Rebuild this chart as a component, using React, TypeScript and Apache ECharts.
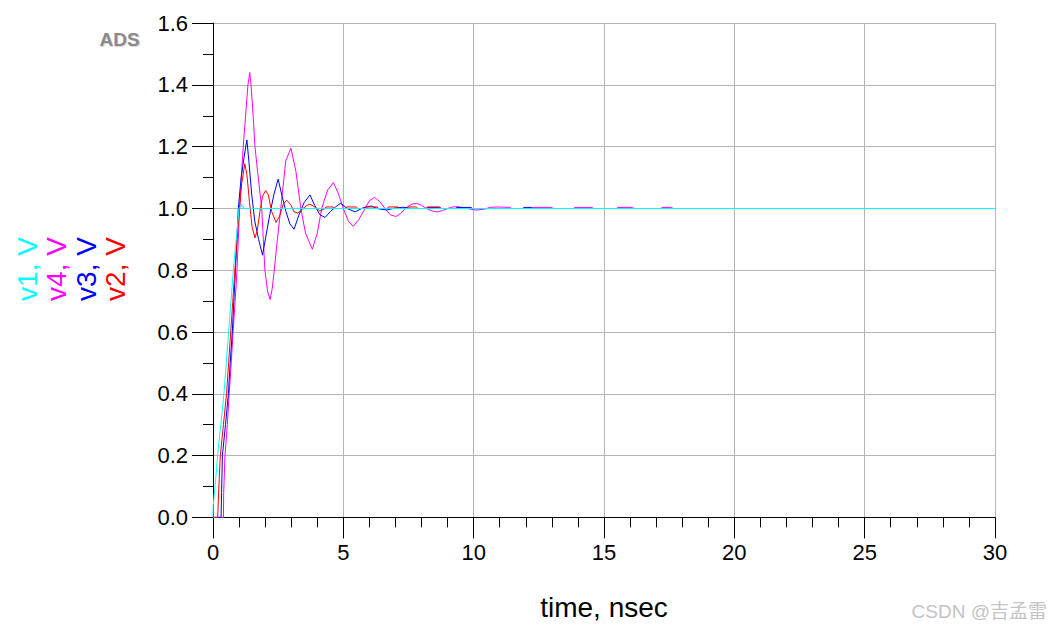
import React, { useEffect, useRef } from "react";
import * as echarts from "echarts";

// ---- axis ranges / ticks ----
const xRange = { min: 0, max: 30, interval: 5, minorSplit: 5 };
const yRange = { min: 0, max: 1.6, interval: 0.2, minorSplit: 2 };
const xTitle = "time, nsec";
const watermark = "CSDN @吉孟雷";
const logoText = "ADS";

// ---- series data: [time (ns), voltage (V)] ----
const v1Data: number[][] = [
  [0, 0], [0.01, 0.04], [0.1, 0.12], [0.2, 0.22], [0.3, 0.3], [0.42, 0.4], [0.6, 0.6],
  [0.78, 0.8], [1.0, 1.0], [1.1, 1.012], [1.2, 1.0], [30, 1.0],
];

const v2Data: number[][] = [
  [0, 0], [0.18, 0], [0.2, 0.05], [0.28, 0.2], [0.4, 0.3], [0.52, 0.4], [0.6, 0.5],
  [0.68, 0.6], [0.76, 0.7], [0.84, 0.8], [0.92, 0.9], [1.02, 1.0], [1.1, 1.08],
  [1.22, 1.145], [1.3, 1.11], [1.4, 1.02], [1.5, 0.94], [1.61, 0.905], [1.7, 0.93],
  [1.8, 0.99], [1.9, 1.04], [2.02, 1.058], [2.12, 1.045], [2.25, 0.99], [2.42, 0.955],
  [2.55, 0.975], [2.7, 1.015], [2.83, 1.027], [3.0, 1.01], [3.1, 0.99], [3.25, 0.985],
  [3.45, 1.0], [3.6, 1.01], [3.72, 1.014], [3.9, 1.005], [4.1, 0.992], [4.3, 1.0],
  [4.33, 1.005], [4.6, 1.005], [4.65, 1.0], [5.1, 1.0], [5.12, 1.005], [5.5, 1.005],
  [5.55, 1.0], [5.83, 1.0], [5.85, 1.005], [6.3, 1.005], [6.35, 1.0], [6.7, 1.0],
  [6.72, 1.005], [7.1, 1.005], [7.15, 1.0], [7.45, 1.0], [7.47, 1.005], [7.8, 1.005],
  [7.85, 1.0], [8.2, 1.0], [8.22, 1.005], [8.7, 1.005], [8.75, 1.0], [30, 1.0],
];

const v3Data: number[][] = [
  [0, 0], [0.31, 0], [0.33, 0.08], [0.36, 0.2], [0.48, 0.3], [0.59, 0.4], [0.66, 0.5],
  [0.74, 0.6], [0.8, 0.7], [0.86, 0.8], [0.92, 0.9], [0.97, 1.0], [1.08, 1.1],
  [1.2, 1.17], [1.3, 1.222], [1.38, 1.15], [1.48, 1.05], [1.6, 0.96], [1.75, 0.9],
  [1.9, 0.849], [2.05, 0.92], [2.2, 0.99], [2.35, 1.05], [2.5, 1.095], [2.65, 1.04],
  [2.8, 0.99], [2.95, 0.95], [3.11, 0.933], [3.3, 0.98], [3.5, 1.02], [3.72, 1.044],
  [3.9, 1.01], [4.1, 0.98], [4.3, 0.971], [4.5, 0.99], [4.7, 1.005], [4.9, 1.017],
  [5.15, 1.0], [5.45, 0.989], [5.75, 1.002], [6.06, 1.008], [6.35, 0.999], [6.66, 0.995],
  [7.0, 1.002], [7.29, 1.004], [7.6, 1.0], [8.2, 1.0], [8.22, 1.0035], [8.7, 1.0035],
  [8.75, 1.0], [9.3, 1.0], [9.35, 1.0035], [9.9, 1.0035], [9.95, 1.0], [11.9, 1.0],
  [11.92, 1.0035], [12.2, 1.0035], [12.25, 1.0], [30, 1.0],
];

const v4Data: number[][] = [
  [0, 0], [0.4, 0], [0.41, 0.08], [0.46, 0.2], [0.55, 0.3], [0.62, 0.4], [0.7, 0.5],
  [0.77, 0.6], [0.85, 0.7], [0.92, 0.8], [0.97, 0.9], [1.02, 1.0], [1.1, 1.12],
  [1.16, 1.2], [1.25, 1.3], [1.34, 1.4], [1.41, 1.44], [1.46, 1.4], [1.54, 1.3],
  [1.61, 1.2], [1.71, 1.12], [1.79, 1.06], [1.87, 1.0], [1.93, 0.9], [1.99, 0.8],
  [2.1, 0.73], [2.19, 0.705], [2.27, 0.74], [2.35, 0.8], [2.47, 0.9], [2.6, 1.0],
  [2.79, 1.154], [2.99, 1.195], [3.18, 1.12], [3.37, 1.0], [3.55, 0.92], [3.81, 0.868],
  [4.0, 0.92], [4.17, 1.0], [4.4, 1.06], [4.62, 1.084], [4.8, 1.05], [5.0, 1.0],
  [5.2, 0.958], [5.38, 0.942], [5.6, 0.965], [5.83, 1.0], [6.0, 1.025], [6.2, 1.036],
  [6.4, 1.022], [6.6, 1.0], [6.8, 0.98], [7.02, 0.974], [7.2, 0.984], [7.37, 1.0],
  [7.6, 1.013], [7.8, 1.017], [8.0, 1.01], [8.2, 1.0], [8.4, 0.992], [8.6, 0.989],
  [8.8, 0.993], [9.0, 1.0], [9.2, 1.005], [9.35, 1.006], [9.6, 1.003], [9.8, 0.999],
  [10.0, 0.996], [10.1, 0.995], [10.35, 0.997], [10.5, 1.0], [10.6, 1.0035],
  [10.9, 1.005], [11.4, 1.0035], [11.45, 1.0], [12.2, 1.0], [12.22, 1.0035],
  [13.0, 1.0035], [13.05, 1.0], [13.85, 1.0], [13.87, 1.0035], [14.55, 1.0035],
  [14.6, 1.0], [15.5, 1.0], [15.52, 1.0035], [16.1, 1.0035], [16.15, 1.0], [17.2, 1.0],
  [17.22, 1.0035], [17.6, 1.0035], [17.65, 1.0], [30, 1.0],
];

const seriesNames = ["v4", "v3", "v2", "v1"];
const seriesColors = ["#ff00ff", "#0000ff", "#ff0000", "#00ffff"];
const seriesData = [v4Data, v3Data, v2Data, v1Data];

// y-axis title pieces (left to right)
const yTitleTexts = ["v1, V", "v4, V", "v3, V", "v2, V"];
const yTitleColors = ["#00ffff", "#ff00ff", "#0000ff", "#ff0000"];

const FONT = "'Liberation Sans', Arial, Helvetica, sans-serif";

export default function App() {
  const ref = useRef<HTMLDivElement>(null);

  useEffect(() => {
    if (!ref.current) return;
    const chart = echarts.init(ref.current, null, { renderer: "svg" });

    const yTitleX = [27, 56, 86, 115];
    const graphic: any[] = yTitleTexts.map((t, i) => ({
      type: "text",
      x: yTitleX[i],
      y: 269,
      rotation: Math.PI / 2,
      silent: true,
      style: {
        text: t,
        fill: yTitleColors[i],
        fontSize: 28,
        fontFamily: FONT,
        align: "center",
        verticalAlign: "middle",
      },
    }));
    graphic.push(
      {
        type: "text",
        x: 604,
        y: 607,
        silent: true,
        style: {
          text: xTitle,
          fill: "#000",
          fontSize: 28,
          fontFamily: FONT,
          align: "center",
          verticalAlign: "middle",
        },
      },
      {
        type: "text",
        x: 120.5,
        y: 40,
        silent: true,
        style: {
          text: logoText,
          fill: "#d8d8d8",
          fontSize: 19,
          fontWeight: "bold",
          fontFamily: FONT,
          align: "center",
          verticalAlign: "middle",
        },
      },
      {
        type: "text",
        x: 119.5,
        y: 39,
        silent: true,
        style: {
          text: logoText,
          fill: "#8a8a8a",
          fontSize: 19,
          fontWeight: "bold",
          fontFamily: FONT,
          align: "center",
          verticalAlign: "middle",
        },
      },
      {
        type: "text",
        x: 1047,
        y: 611,
        silent: true,
        style: {
          text: watermark,
          fill: "#c4c4c4",
          fontSize: 19,
          fontFamily: "'Liberation Sans', Arial, 'Noto Sans CJK SC', sans-serif",
          align: "right",
          verticalAlign: "middle",
        },
      }
    );

    const axisCommon = {
      type: "value" as const,
      axisLine: { show: true, onZero: false, lineStyle: { color: "#000", width: 1 } },
      axisTick: { show: true, length: 21, lineStyle: { color: "#000", width: 1 } },
      minorTick: { show: true, length: 10, lineStyle: { color: "#000", width: 1 } },
      splitLine: { show: true, lineStyle: { color: "#b4b4b4", width: 1 } },
    };

    chart.setOption({
      animation: false,
      backgroundColor: "#ffffff",
      grid: { left: 213, right: 57, top: 23.16, bottom: 110.6, containLabel: false },
      xAxis: {
        ...axisCommon,
        min: xRange.min,
        max: xRange.max,
        interval: xRange.interval,
        minorTick: { ...axisCommon.minorTick, splitNumber: xRange.minorSplit },
        axisLabel: { fontSize: 22, color: "#000", margin: 24, fontFamily: FONT },
      },
      yAxis: {
        ...axisCommon,
        min: yRange.min,
        max: yRange.max,
        interval: yRange.interval,
        minorTick: { ...axisCommon.minorTick, splitNumber: yRange.minorSplit },
        axisLabel: {
          fontSize: 22,
          color: "#000",
          margin: 25,
          fontFamily: FONT,
          formatter: (v: number) => v.toFixed(1),
        },
      },
      series: seriesNames.map((n, i) => ({
        name: n,
        type: "line",
        data: seriesData[i],
        showSymbol: false,
        symbol: "none",
        silent: true,
        lineStyle: { color: seriesColors[i], width: 1 },
        itemStyle: { color: seriesColors[i] },
        emphasis: { disabled: true },
        z: 10 + i,
      })),
      graphic,
    });

    return () => chart.dispose();
  }, []);

  return (
    <div
      ref={ref}
      style={{ position: "fixed", left: 0, top: 0, width: 1052, height: 628, background: "#fff" }}
    />
  );
}
